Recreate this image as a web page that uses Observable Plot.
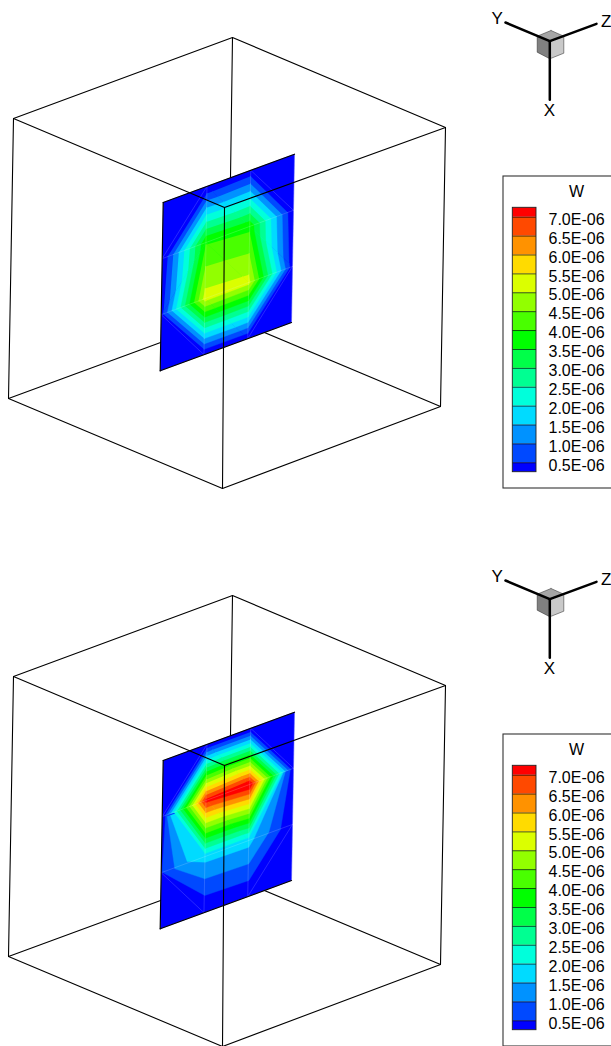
<!DOCTYPE html>
<html><head><meta charset="utf-8">
<script src="https://cdn.jsdelivr.net/npm/d3@7"></script>
<script src="https://cdn.jsdelivr.net/npm/@observablehq/plot@0.6"></script>
<style>html,body{margin:0;padding:0;background:#fff;overflow:hidden}svg{display:block}</style>
</head><body><div id="chart"></div>
<script>
// W at the 4x4 slice nodes (rows v, columns u), x 1e-6
const nodesTop = [
  [0.0, 0.0, 0.1, 0.0],
  [0.0, 3.95, 3.87, 0.0],
  [0.3, 5.23, 5.18, 0.2],
  [0.0, 0.0, 0.0, 0.0]
];
const nodesBottom = [
  [0.0, 0.0, 0.0, 0.0],
  [0.1, 7.2, 7.5, 0.1],
  [0.5, 1.7, 1.7, 0.5],
  [0.0, 0.0, 0.0, 0.0]
];
// contour levels and legend labels
const levels = [0.5,1,1.5,2,2.5,3,3.5,4,4.5,5,5.5,6,6.5,7];
const levelLabels = ["0.5E-06","1.0E-06","1.5E-06","2.0E-06","2.5E-06","3.0E-06","3.5E-06","4.0E-06","4.5E-06","5.0E-06","5.5E-06","6.0E-06","6.5E-06","7.0E-06"];
const bandColors = ["#0000ff","#0049ff","#0092ff","#00dbff","#00ffdb","#00ff92","#00ff49","#00ff00","#49ff00","#92ff00","#dbff00","#ffdb00","#ff9200","#ff4900","#ff0000"];
// triangulation of each mesh cell: a = main diagonal, b = anti diagonal
const diagonalsTop = [["b","a","a"],["b","a","a"],["a","a","b"]];
const diagonalsBottom = [["b","a","a"],["a","a","b"],["a","a","b"]];
// low contours of the lower slice, read as outlines from the picture
const skirts = {
  0.5:[[165,815],[161.7,871.7],[204.3,895],[248.3,880],[280,829],[290,768.3]],
  1:[[166.7,816],[174.3,868.3],[204.3,878.3],[248.3,863.3],[268.3,831.7],[285,770.7]],
  1.5:[[170,815],[186.7,861],[205,861.7],[248.3,846.7],[253.3,838.3],[283.3,770.7]]
};
// scene geometry (top panel)
const cube = {A:[13,118],B:[232,37],C:[445,127],D:[224,207],E:[8,398],F:[228,317],G:[440,406],H:[222,488]};
const backEdges = ["BF","FE","FG"];
const frontEdges = ["AB","BC","AD","CD","AE","CG","DH","EH","HG"];
const slice = {tl:[162.7,202],tr:[294,153.7],bl:[159.7,370.3]};
const panelOffsets = [0,558];
const triad = {
  faces:[
    {c:"#a6a6a6",p:[[550.5,30],[563.3,35.7],[549.3,40.7],[536.7,35.7]]},
    {c:"#808080",p:[[536.7,35.7],[549.3,40.7],[549.3,58.3],[536.7,51.7]]},
    {c:"#c9c9c9",p:[[549.3,40.7],[563.3,35.7],[563.3,52.7],[549.3,58.3]]}
  ],
  axes:[{p:[[505,22],[549.3,40.7]]},{p:[[596,23.3],[549.3,40.7]]},{p:[[549.3,40.7],[549.3,99.3]]}],
  labels:[{t:"Y",x:496.7,y:18},{t:"Z",x:605.7,y:20.7},{t:"X",x:549,y:110.5}]
};
const legendBox = {x1:503,x2:640,y1:176,y2:488};
const legendBar = {x1:512.3,x2:536,y1:207.3,y2:471.7,top:216.7,bottom:462.3};
const legendTitleY = 191, legendTextX = 548;

const levelY = d3.scaleLinear().domain([7,0.5]).range([legendBar.top,legendBar.bottom]);

function nodePos(u,v){
  const {tl,tr,bl}=slice;
  return [tl[0]+(tr[0]-tl[0])*u/3+(bl[0]-tl[0])*v/3, tl[1]+(tr[1]-tl[1])*u/3+(bl[1]-tl[1])*v/3];
}
function clip(tri,L){ // keep the part of a triangle with value >= L
  const out=[];
  for(let i=0;i<tri.length;i++){
    const a=tri[i],b=tri[(i+1)%tri.length];
    if(a[2]>=L) out.push(a);
    if((a[2]>=L)!==(b[2]>=L)){
      const t=(L-a[2])/(b[2]-a[2]);
      out.push([a[0]+(b[0]-a[0])*t,a[1]+(b[1]-a[1])*t,L]);
    }
  }
  return out;
}
let gid=0;
const bandPts=[];
function addPoly(arr,pts,off,extra){const id=gid++;for(const p of pts)arr.push({id,x:p[0],y:p[1]+off,...extra});}
function buildSlice(vals,diag,off,sk){
  const N=(u,v)=>[...nodePos(u,v),vals[v][u]];
  const tris=[];
  for(let v=0;v<3;v++)for(let u=0;u<3;u++){
    const a=N(u,v),b=N(u+1,v),c=N(u+1,v+1),d=N(u,v+1);
    const pair=diag[v][u]==="a"?[[a,b,c],[a,c,d]]:[[a,b,d],[b,c,d]];
    pair.forEach(t=>tris.push({t,v}));
  }
  addPoly(bandPts,[N(0,0),N(3,0),N(3,3),N(0,3)],off,{band:0});
  levels.forEach((L,i)=>{
    const outline=sk&&sk[L];
    if(outline) addPoly(bandPts,outline,0,{band:i+1});
    for(const {t,v} of tris){
      if(outline&&v>0) continue;
      const c=clip(t,L);
      if(c.length>2) addPoly(bandPts,c,off,{band:i+1});
    }
  });
}
buildSlice(nodesTop,diagonalsTop,panelOffsets[0],null);
buildSlice(nodesBottom,diagonalsBottom,panelOffsets[1],skirts);

const backSegs=[],frontSegs=[],meshSegs=[],outlineSegs=[];
const seg=(arr,a,b,off)=>{const id=gid++;arr.push({id,x:a[0],y:a[1]+off},{id,x:b[0],y:b[1]+off});};
const facePts=[],axisPts=[],triadText=[],legendFrames=[],legendBands=[],legendRules=[],legendText=[],legendOutlines=[];
for(const off of panelOffsets){
  backEdges.forEach(e=>seg(backSegs,cube[e[0]],cube[e[1]],off));
  frontEdges.forEach(e=>seg(frontSegs,cube[e[0]],cube[e[1]],off));
  for(let i=0;i<4;i++){
    seg(meshSegs,nodePos(i,0),nodePos(i,3),off);
    seg(meshSegs,nodePos(0,i),nodePos(3,i),off);
  }
  seg(meshSegs,nodePos(1,0),nodePos(0,1),off);
  seg(meshSegs,nodePos(2,0),nodePos(3,1),off);
  seg(meshSegs,nodePos(0,2),nodePos(1,3),off);
  seg(meshSegs,nodePos(3,2),nodePos(2,3),off);
  seg(outlineSegs,nodePos(0,3),nodePos(0,0),off);
  seg(outlineSegs,nodePos(0,0),nodePos(3,0),off);
  seg(outlineSegs,nodePos(0,3),nodePos(3,3),off);
  triad.faces.forEach(f=>addPoly(facePts,[...f.p,f.p[0]],off,{c:f.c}));
  triad.axes.forEach(a=>addPoly(axisPts,a.p,off,{}));
  triad.labels.forEach(l=>triadText.push({t:l.t,x:l.x,y:l.y+off}));
  legendFrames.push({x1:legendBox.x1,x2:legendBox.x2,y1:legendBox.y1+off,y2:legendBox.y2+off});
  legendOutlines.push({y1:legendBar.y1+off,y2:legendBar.y2+off});
  bandColors.forEach((c,i)=>{
    const hi=i===bandColors.length-1?legendBar.y1:levelY(levels[i]);
    const lo=i===0?legendBar.y2:levelY(levels[i-1]);
    legendBands.push({band:i,y1:hi+off,y2:lo+off});
  });
  levels.forEach((L,i)=>{
    legendRules.push({y:levelY(L)+off});
    legendText.push({t:levelLabels[i],y:levelY(L)+off+2.6});
  });
  legendText.push({t:"W",title:true,y:legendTitleY+off});
}
const chart=Plot.plot({
  width:611,height:1046,margin:0,
  x:{domain:[0,611],range:[0,611],axis:null},
  y:{domain:[0,1046],range:[0,1046],axis:null},
  color:{type:"ordinal",domain:d3.range(bandColors.length),range:bandColors},
  style:{background:"#fff",fontFamily:"Liberation Sans"},
  marks:[
    Plot.line(backSegs,{x:"x",y:"y",z:"id",stroke:"#000",strokeWidth:1.1}),
    Plot.line(bandPts,{x:"x",y:"y",z:"id",fill:"band",stroke:"band",strokeWidth:0.4}),
    Plot.line(meshSegs,{x:"x",y:"y",z:"id",stroke:"#fff",strokeOpacity:0.2,strokeWidth:0.8}),
    Plot.line(outlineSegs,{x:"x",y:"y",z:"id",stroke:"#000",strokeWidth:1.2}),
    Plot.line(frontSegs,{x:"x",y:"y",z:"id",stroke:"#000",strokeWidth:1.1}),
    Plot.line(facePts,{x:"x",y:"y",z:"id",fill:d=>d.c,stroke:"#222",strokeWidth:0.5}),
    Plot.line(axisPts,{x:"x",y:"y",z:"id",stroke:"#000",strokeWidth:2.5}),
    Plot.text(triadText,{x:"x",y:"y",text:"t",fontSize:17,fill:"#000"}),
    Plot.rect(legendFrames,{x1:"x1",x2:"x2",y1:"y1",y2:"y2",fill:"#fff",stroke:"#333",strokeWidth:1.1}),
    Plot.rect(legendBands,{x1:legendBar.x1,x2:legendBar.x2,y1:"y1",y2:"y2",fill:"band"}),
    Plot.ruleY(legendRules,{y:"y",x1:legendBar.x1,x2:legendBar.x2,stroke:"#000",strokeWidth:0.9,strokeOpacity:0.75}),
    Plot.rect(legendOutlines,{x1:legendBar.x1,x2:legendBar.x2,y1:"y1",y2:"y2",fill:"none",stroke:"#222",strokeWidth:0.9}),
    Plot.text(legendText.filter(d=>!d.title),{x:legendTextX,y:"y",text:"t",textAnchor:"start",fontSize:16,fill:"#000"}),
    Plot.text(legendText.filter(d=>d.title),{x:576,y:"y",text:"t",fontSize:16,fill:"#000"})
  ]
});
document.getElementById("chart").appendChild(chart);
</script></body></html>
